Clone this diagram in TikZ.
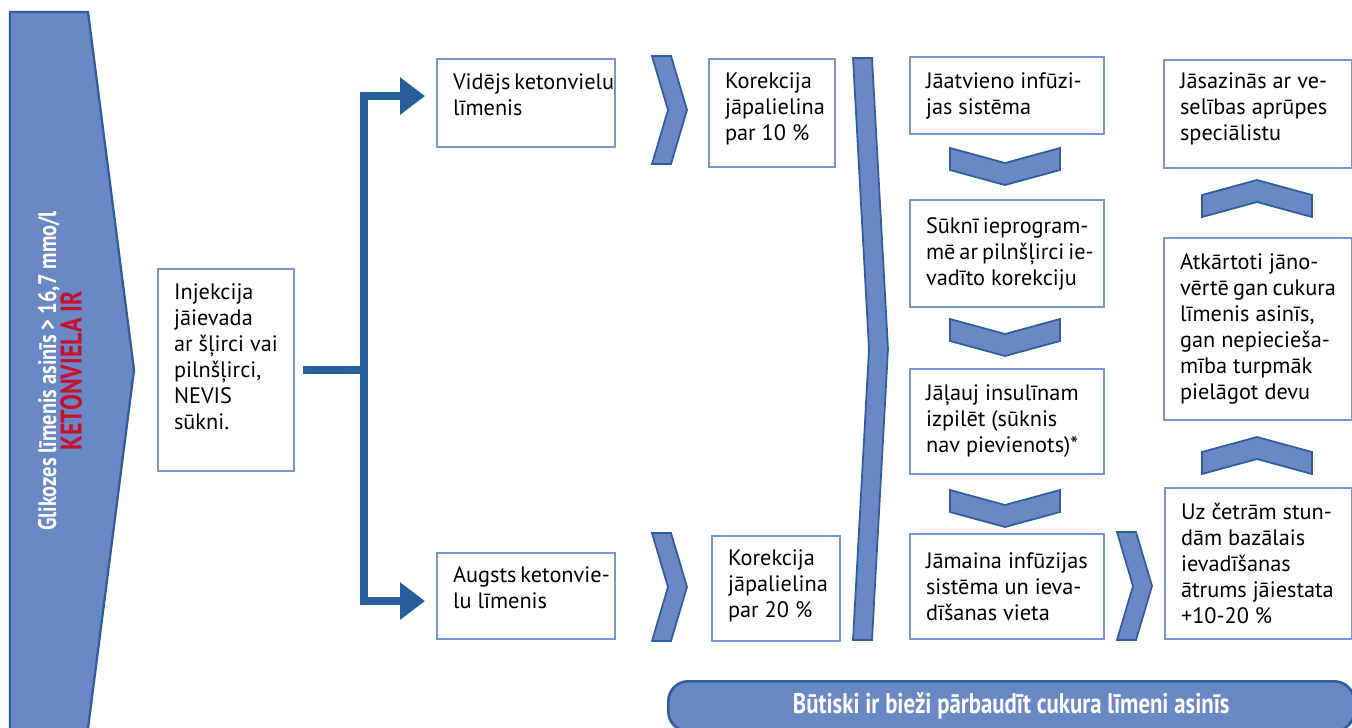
\documentclass[tikz,border=0pt]{standalone}
\usepackage{fontspec}
\setmainfont{PT Sans}
\newfontfamily\condfont[FakeStretch=0.8]{PT Sans}
\usepackage{xcolor}
\usetikzlibrary{arrows.meta,calc}
\definecolor{chevfill}{HTML}{6A88C6}
\definecolor{chevline}{HTML}{2E5E9C}
\definecolor{linkblue}{HTML}{265E9E}
\definecolor{boxline}{HTML}{7696CF}
\definecolor{ketred}{HTML}{C8102E}
\newcommand{\rchev}[3]{\draw[chev] (#1,#2) -- (#1+19,#2) -- (#1+35,#2+#3/2) -- (#1+19,#2+#3) -- (#1,#2+#3) -- (#1+16,#2+#3/2) -- cycle;}
\newcommand{\dchev}[2]{\draw[chev] (#1-55,#2) -- (#1,#2+15) -- (#1+55,#2) -- (#1+55,#2+22) -- (#1,#2+37) -- (#1-55,#2+22) -- cycle;}
\newcommand{\uchev}[2]{\draw[chev] (#1,#2) -- (#1+55,#2+15) -- (#1+55,#2+37) -- (#1,#2+22) -- (#1-55,#2+37) -- (#1-55,#2+15) -- cycle;}

\begin{document}
\begin{tikzpicture}[x=0.02cm,y=-0.02cm,
  cell/.style={draw=boxline,line width=1.2pt,fill=white,anchor=north west,align=flush left,inner xsep=0.32cm,inner ysep=0.08cm,font=\fontsize{12.7}{14.8}\selectfont,
    execute at begin node={\hyphenpenalty=10000\exhyphenpenalty=10000\hbadness=10000\hfuzz=2cm}},
  lift/.style={execute at end node={\rule[-#1]{0pt}{0pt}}},
  chev/.style={draw=chevline,fill=chevfill,line width=1pt,line join=miter},
  link/.style={linkblue,line width=0.16cm},
  arr/.style={link,-{Triangle[length=0.5cm,width=0.72cm]}}
]
\useasboundingbox (0,0) rectangle (1352,727);
\clip (0,0) rectangle (1352,727);
\fill[white] (0,0) rectangle (1352,727);

\draw[chev,line width=1.3pt] (10,12) -- (88,12) -- (134,370) -- (86.5,740) -- (10,740) -- cycle;
\node[rotate=90,align=center,text=white,font=\condfont\bfseries\fontsize{14.5}{14.5}\selectfont] (cond) at (60,371) {Glikozes~līmenis~asinīs~>~16,7~mmo/l\\\textcolor{ketred}{\fontsize{17}{14.5}\selectfont KETONVIELA~IR}};

\node[cell,lift=0.54cm,text width=2.08cm,minimum height=4.04cm] (inj) at (157,268) {Injekcija\\jāievada\\ar~šļirci~vai\\pilnšļirci,\\NEVIS\\sūkni.};

\node[cell,lift=0.34cm,text width=2.92cm,minimum height=1.76cm] (mid) at (436,58) {Vidējs~ketonvielu\\līmenis};
\node[cell,lift=0.32cm,text width=2.92cm,minimum height=1.72cm] (high) at (436,552) {Augsts~ketonvie-\\lu~līmenis};

\coordinate (jn) at ([xshift=1.38cm]inj.east);
\draw[link,shorten <=0.16cm] (inj.east) -- (jn);
\draw[arr,shorten >=0.22cm] (jn) |- ([yshift=0.14cm]mid.west);
\draw[arr,shorten >=0.22cm] (jn) |- ([yshift=-0.1cm]high.west);

\rchev{652}{56}{108}
\rchev{652}{533}{108}
\node[cell,lift=0.24cm,text width=1.88cm,minimum height=2.16cm] (kor10) at (708,58) {Korekcija\\jāpalielina\\par~10~\%};
\node[cell,lift=0.2cm,text width=1.92cm,minimum height=2.10cm] (kor20) at (711,535) {Korekcija\\jāpalielina\\par~20~\%};

\rchev{853}{58}{582}

\node[cell,text width=3.24cm,minimum height=1.54cm] (detach) at (909,56) {Jāatvieno~infūzi-\\jas~sistēma};
\dchev{1005}{148}
\node[cell,text width=3.24cm,minimum height=2.14cm] (reprog) at (909,199) {Sūknī~ieprogram-\\mē~ar~pilnšļirci~ie-\\vadīto~korekciju};
\dchev{1005}{319}
\node[cell,text width=3.24cm,minimum height=2.10cm] (letrun) at (909,368) {Jāļauj~insulīnam\\izpilēt~(sūknis\\nav~pievienots)*};
\dchev{1005}{490}
\node[cell,text width=3.24cm,minimum height=2.10cm] (change) at (909,533) {Jāmaina~infūzijas\\sistēma~un~ieva-\\dīšanas~vieta};
\rchev{1117}{532}{108}

\node[cell,lift=0.28cm,text width=3.12cm,minimum height=2.16cm] (contact) at (1163,59) {Jāsazinās~ar~ve-\\selības~aprūpes\\speciālistu};
\uchev{1257}{180}
\node[cell,text width=3.12cm,minimum height=3.64cm] (recheck) at (1163,237) {Atkārtoti~jāno-\\vērtē~gan~cukura\\līmenis~asinīs,\\gan~nepiecieša-\\mība~turpmāk\\pielāgot~devu};
\uchev{1257}{437}
\node[cell,text width=3.10cm,minimum height=3.02cm] (basal) at (1164,487) {Uz~četrām~stun-\\dām~bazālais\\ievadīšanas\\ātrums~jāiestata\\+10-20~\%};

\node[chev,line width=1.5pt,rounded corners=0.4cm,anchor=north west,minimum width=13.72cm,minimum height=1cm,text=white,font=\condfont\bfseries\fontsize{16.2}{18}\selectfont] (note) at (667,680) {Būtiski ir bieži pārbaudīt cukura līmeni asinīs};
\end{tikzpicture}
\end{document}
